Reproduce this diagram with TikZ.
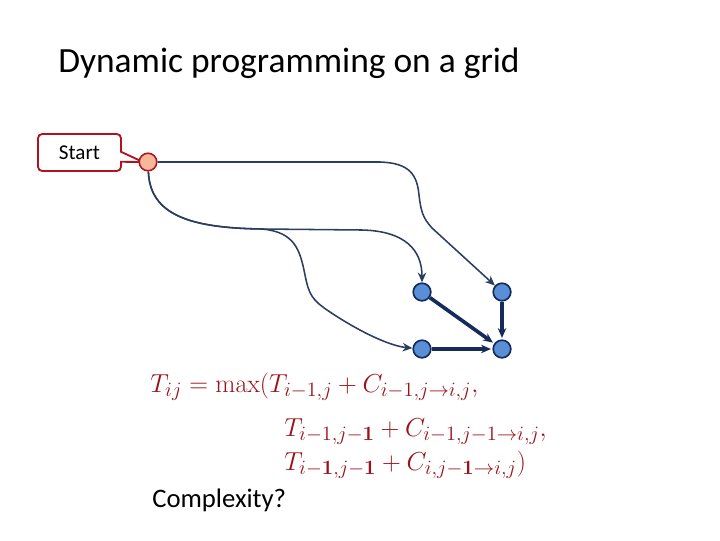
\RequirePackage{fix-cm}
\documentclass[tikz,border=0pt]{standalone}
\usepackage{amsmath}
\usepackage[no-math]{fontspec}
\setmainfont{Carlito}
\DeclareMathSizes{18.5}{18.5}{14.5}{11}
\usetikzlibrary{arrows.meta,shapes.callouts}
\definecolor{callred}{HTML}{B0121E}
\definecolor{startfill}{HTML}{F7B79A}
\definecolor{cellfill}{HTML}{5A8FD8}
\definecolor{navy}{HTML}{142B5C}
\definecolor{slate}{HTML}{2B3E5E}
\definecolor{formred}{HTML}{9A1218}

\begin{document}
\begin{tikzpicture}[x=0.025cm,y=-0.025cm,>={Stealth[length=7pt,width=6pt]},
      cell/.style={draw=navy,fill=cellfill,circle,minimum size=12.5pt,inner sep=0pt,line width=1.2pt},
      edge/.style={draw=slate,line width=1.1pt,->},
      best/.style={draw=navy,line width=2.6pt,->,shorten >=1pt},
      formula/.style={anchor=base west,inner sep=0pt,text=formred,font=\fontsize{18.5}{22}\selectfont}]
    \useasboundingbox (0,0) rectangle (720,540);
    % --- title ---
    \node[anchor=base west,inner sep=0pt,font=\fontsize{25.2}{30}\selectfont] (title) at (58,72) {Dynamic programming on a grid};
    % --- callout ---
    \coordinate (tip) at (143,162);
    \node[rectangle callout,draw=callred,fill=white,line width=1.3pt,rounded corners=3pt,
          minimum width=2.075cm,minimum height=0.925cm,inner sep=0pt,
          callout absolute pointer={(tip)},font=\fontsize{15}{18}\selectfont] (lbl) at (79.5,152.5) {Start};
    % --- grid cells ---
    \node[draw=callred,fill=startfill,circle,minimum size=12.5pt,inner sep=0pt,line width=1.1pt] (start) at (148,162) {};
    \node[cell] (n11) at (422,292) {};
    \node[cell] (n12) at (502,292) {};
    \node[cell] (n21) at (422,349) {};
    \node[cell] (n22) at (502,349) {};
    % --- paths from start ---
    \draw[edge] (start) -- (380,162) .. controls (410,163) and (417,175) .. (419,195)
      .. controls (421,212) and (423,218) .. (432,228) -- (n12);
    \draw[edge] (start) .. controls (150,215) and (190,228) .. (262,229) -- (362,230)
      .. controls (405,231) and (422,250) .. (n11);
    \draw[edge] (start) .. controls (150,215) and (190,228) .. (262,229)
      .. controls (295,232) and (300,250) .. (305,275) .. controls (309,295) and (312,300) .. (330,312)
      .. controls (360,332) and (390,346) .. (n21);
    % --- last step ---
    \draw[best] (n11) -- (n22);
    \draw[best] (n12) -- (n22);
    \draw[best] (n21) -- (n22);
    % --- recurrence ---
    \node[formula] (l1) at (150,392) {$T_{ij} = \max(T_{i-1,j} + C_{i-1,j\to i,j},$};
    \node[formula] (l2) at (284,436) {$T_{i-1,j-\mathbf{1}} + C_{i-1,j-1\to i,j},$};
    \node[formula] (l3) at (284,470) {$T_{i\mathbf{-1},j\mathbf{-1}} + C_{i,j\mathbf{-1}\to i,j})$};
    \node[anchor=base west,inner sep=0pt,font=\fontsize{19}{23}\selectfont] (cplx) at (152,507) {Complexity?};
  \end{tikzpicture}
\end{document}
